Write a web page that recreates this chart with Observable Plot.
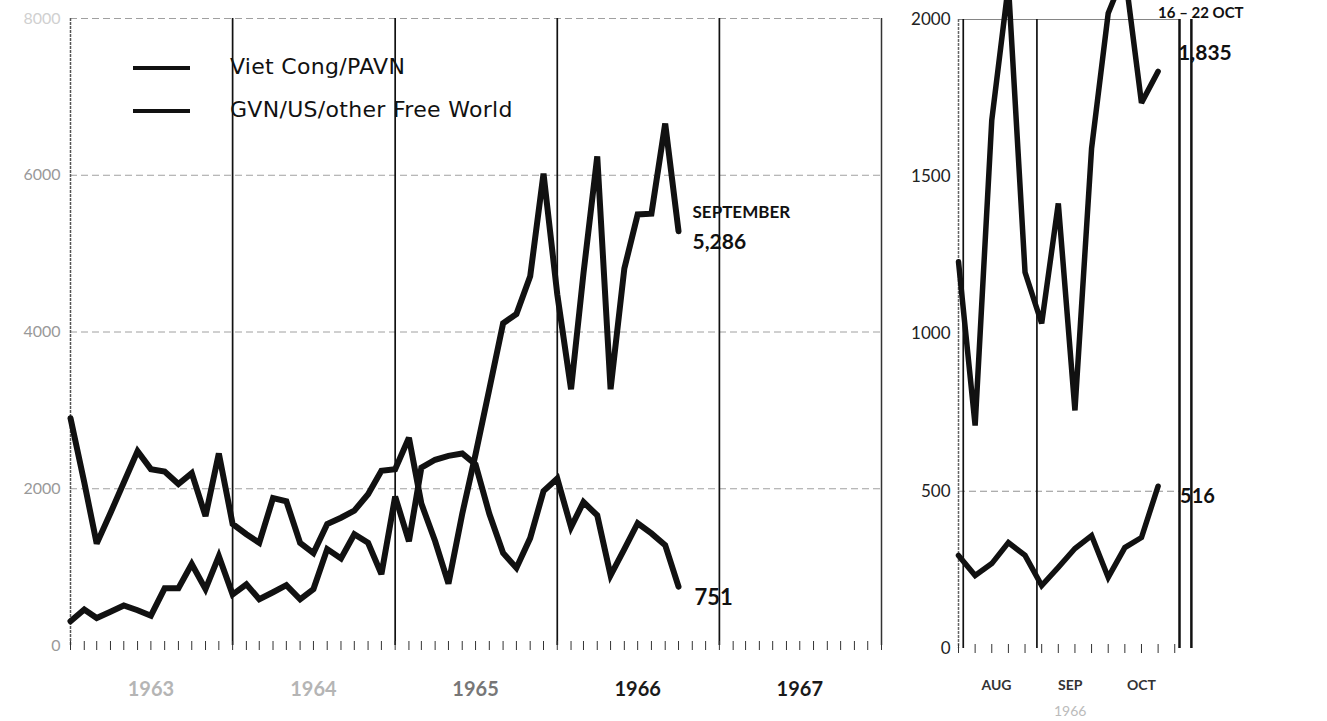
<!DOCTYPE html>
<html>
<head>
<meta charset="utf-8">
<script src="https://cdn.jsdelivr.net/npm/d3@7"></script>
<script src="https://cdn.jsdelivr.net/npm/@observablehq/plot@0.6"></script>
<style>
html, body { margin: 0; padding: 0; background: #fff; }
#wrap { position: relative; width: 1327px; height: 721px; overflow: hidden; font-family: Lato, "Noto Sans", sans-serif; background: #fff; }
#left, #right { position: absolute; top: 0; }
#left { left: 0; }
#right { left: 880px; }
.leg { position: absolute; left: 133px; height: 0; }
.leg .sw { position: absolute; left: 0; top: -2px; width: 57px; height: 4px; background: #111; }
.leg .lab { position: absolute; left: 97px; top: -15px; white-space: nowrap; font-family: "DejaVu Sans", sans-serif; font-size: 22px; letter-spacing: 0.3px; color: #111; line-height: 28px; }
</style>
</head>
<body>
<div id="wrap">
  <div id="left"></div>
  <div id="right"></div>
  <div id="legend"></div>
</div>
<script>
// ---------- data ----------
const seriesNames = ["Viet Cong/PAVN", "GVN/US/other Free World"];

const months = [
  "1963-01","1963-02","1963-03","1963-04","1963-05","1963-06","1963-07","1963-08","1963-09","1963-10","1963-11","1963-12",
  "1964-01","1964-02","1964-03","1964-04","1964-05","1964-06","1964-07","1964-08","1964-09","1964-10","1964-11","1964-12",
  "1965-01","1965-02","1965-03","1965-04","1965-05","1965-06","1965-07","1965-08","1965-09","1965-10","1965-11","1965-12",
  "1966-01","1966-02","1966-03","1966-04","1966-05","1966-06","1966-07","1966-08","1966-09","1966-10"
];
const vcMonthly = [
  2900, 2080, 1300, 1690, 2080, 2480, 2250, 2220, 2060, 2200, 1650, 2450,
  1550, 1420, 1310, 1880, 1840, 1310, 1180, 1550, 1630, 1720, 1930, 2230,
  2250, 2650, 1810, 1330, 790, 1680, 2440, 3270, 4110, 4230, 4710, 6020,
  4480, 3270, 4750, 6240, 3270, 4810, 5500, 5510, 6660, 5286
];
const gvnMonthly = [
  310, 460, 350, 430, 510, 450, 380, 730, 730, 1040, 720, 1140,
  650, 780, 590, 680, 770, 590, 720, 1230, 1110, 1420, 1310, 910,
  1900, 1330, 2270, 2370, 2420, 2450, 2310, 1680, 1180, 990, 1370, 1970,
  2130, 1510, 1830, 1660, 895, 1230, 1560, 1430, 1280, 751
];
const yearLabels = ["1963", "1964", "1965", "1966", "1967"];
const leftYTicks = [0, 2000, 4000, 6000, 8000];

const weekEnds = ["1966-07-30","1966-08-06","1966-08-13","1966-08-20","1966-08-27","1966-09-03","1966-09-10",
                  "1966-09-17","1966-09-24","1966-10-01","1966-10-08","1966-10-15","1966-10-22"];
const vcWeekly  = [1230, 709, 1680, 2110, 1196, 1034, 1415, 757, 1590, 2020, 2150, 1735, 1835];
const gvnWeekly = [296, 232, 270, 337, 296, 200, 258, 318, 359, 226, 321, 353, 516];
const monthLabels = ["AUG", "SEP", "OCT"];
const rightYTicks = [0, 500, 1000, 1500, 2000];
const lastWeekLabel = "16 – 22 OCT";
const lastMonthLabel = "SEPTEMBER";

// ---------- tables ----------
const parseM = d3.utcParse("%Y-%m");
const parseD = d3.utcParse("%Y-%m-%d");
const monthly = months.map((m, i) => ({date: parseM(m), vc: vcMonthly[i], gvn: gvnMonthly[i]}));
const weekly = weekEnds.map((w, i) => ({date: parseD(w), vc: vcWeekly[i], gvn: gvnWeekly[i]}));
const lastM = monthly[monthly.length - 1];
const lastW = weekly[weekly.length - 1];

const yearStarts = yearLabels.map(y => new Date(Date.UTC(+y, 0, 1)));
const yearMids = yearLabels.map(y => new Date(Date.UTC(+y, 6, 1)));
const leftDomain = [yearStarts[0], new Date(Date.UTC(+yearLabels[4] + 1, 0, 1))];
const monthTicks = d3.utcMonth.range(leftDomain[0], new Date(+leftDomain[1] + 1));

const rightStart = weekly[0].date;
const rightEnd = d3.utcDay.offset(d3.utcMonth.ceil(lastW.date), -1);
const monthStartsR = [d3.utcMonth.ceil(rightStart), d3.utcMonth.offset(d3.utcMonth.ceil(rightStart), 1)];
const monthMidsR = monthLabels.map((m, i) => d3.utcDay.offset(d3.utcMonth.offset(d3.utcMonth.floor(rightStart), i + 1), 14));
const weekTicks = d3.utcSaturday.range(rightStart, d3.utcDay.offset(rightEnd, 1));

const FONT = "Lato, 'Noto Sans', sans-serif";
const lineOpts = {stroke: "#111", strokeWidth: 6, strokeLinejoin: "miter", strokeMiterlimit: 3};
const plain = d => String(d);

// ---------- left panel ----------
const left = Plot.plot({
  width: 900, height: 721,
  marginLeft: 70, marginRight: 19, marginTop: 18, marginBottom: 76,
  style: {background: "transparent", fontFamily: FONT, overflow: "hidden"},
  x: {type: "utc", domain: leftDomain, axis: null},
  y: {domain: [0, 8000], axis: null},
  marks: [
    Plot.gridY(leftYTicks.slice(1), {stroke: "#777", strokeOpacity: 0.7, strokeDasharray: "7,4"}),
    Plot.ruleX([leftDomain[0]], {stroke: "#555", strokeWidth: 1.5, strokeDasharray: "3,1"}),
    Plot.ruleX(yearStarts.slice(1), {stroke: "#111", strokeWidth: 1.7}),
    Plot.ruleX([leftDomain[1]], {stroke: "#333", strokeWidth: 1.5}),
    Plot.axisX(monthTicks, {tickSize: 9, tickFormat: () => "", dy: -4, stroke: "#333"}),
    Plot.axisX(yearMids.slice(0, 2), {tickSize: 0, tickPadding: 36, tickFormat: "%Y", fontSize: 20, fontWeight: "bold", fill: "#b5b5b5", letterSpacing: "2px"}),
    Plot.axisX(yearMids.slice(2, 3), {tickSize: 0, tickPadding: 36, tickFormat: "%Y", fontSize: 20, fontWeight: "bold", fill: "#777", letterSpacing: "2px"}),
    Plot.axisX(yearMids.slice(3), {tickSize: 0, tickPadding: 36, tickFormat: "%Y", fontSize: 20, fontWeight: "bold", fill: "#1a1a1a", letterSpacing: "2px"}),
    Plot.axisY(leftYTicks.slice(0, 4), {tickSize: 0, tickPadding: 10, tickFormat: plain, fontSize: 16, fill: "#999"}),
    Plot.axisY(leftYTicks.slice(4), {tickSize: 0, tickPadding: 10, tickFormat: plain, fontSize: 16, fill: "#d0d0d0"}),
    Plot.line(monthly, {x: "date", y: "gvn", ...lineOpts}),
    Plot.line(monthly, {x: "date", y: "vc", ...lineOpts}),
    Plot.text([lastM], {x: "date", y: "vc", text: () => lastMonthLabel, dx: 14, dy: -19, textAnchor: "start", fontSize: 17, fontWeight: "bold", fill: "#111"}),
    Plot.text([lastM], {x: "date", y: "vc", text: d => d3.format(",")(d.vc), dx: 14, dy: 11, textAnchor: "start", fontSize: 21, fontWeight: "bold", fill: "#111"}),
    Plot.text([lastM], {x: "date", y: "gvn", text: d => String(d.gvn), dx: 16, dy: 11, textAnchor: "start", fontSize: 22, fontWeight: "bold", fill: "#111"})
  ]
});
document.getElementById("left").appendChild(left);

// ---------- right panel ----------
const right = Plot.plot({
  width: 447, height: 721,
  marginLeft: 78, marginRight: 148, marginTop: 19, marginBottom: 73,
  style: {background: "transparent", fontFamily: FONT, overflow: "hidden"},
  x: {type: "utc", domain: [rightStart, rightEnd], axis: null},
  y: {domain: [0, 2000], axis: null},
  marks: [
    Plot.gridY([rightYTicks[1]], {stroke: "#777", strokeOpacity: 0.8, strokeDasharray: "7,4"}),
    Plot.gridY([rightYTicks[4]], {stroke: "#666", strokeOpacity: 0.8}),
    Plot.ruleX([rightStart], {stroke: "#666", strokeWidth: 1.5, strokeDasharray: "3,1"}),
    Plot.ruleX(monthStartsR, {stroke: "#111", strokeWidth: 1.7}),
    Plot.ruleX([rightEnd, d3.utcDay.offset(rightEnd, 5)], {stroke: "#111", strokeWidth: 2.5}),
    Plot.axisX(weekTicks, {tickSize: 9, tickFormat: () => "", dy: -4, stroke: "#333"}),
    Plot.axisX(monthMidsR, {tickSize: 0, tickPadding: 32, tickFormat: (d, i) => monthLabels[i], fontSize: 14, fontWeight: "bold", fill: "#333", letterSpacing: "2px"}),
    Plot.axisX([monthMidsR[1]], {tickSize: 0, tickPadding: 58, tickFormat: "%Y", fontSize: 14, fill: "#bbb", letterSpacing: "1px"}),
    Plot.axisY(rightYTicks, {tickSize: 0, tickPadding: 8, tickFormat: plain, fontSize: 17, fill: "#222"}),
    Plot.line(weekly, {x: "date", y: "gvn", ...lineOpts, strokeWidth: 5.5}),
    Plot.line(weekly, {x: "date", y: "vc", ...lineOpts, strokeWidth: 5.5}),
    Plot.text([lastW], {x: "date", y: "vc", text: d => d3.format(",")(d.vc), dx: 20, dy: -18, textAnchor: "start", fontSize: 21, fontWeight: "bold", fill: "#111"}),
    Plot.text([lastW], {x: "date", y: "gvn", text: d => String(d.gvn), dx: 22, dy: 10, textAnchor: "start", fontSize: 20, fontWeight: "bold", fill: "#111"}),
    Plot.text([lastW], {x: "date", y: "vc", text: () => lastWeekLabel, dy: -58, textAnchor: "start", fontSize: 15, fontWeight: "bold", fill: "#111"})
  ]
});
document.getElementById("right").appendChild(right);

// ---------- legend ----------
const legend = document.getElementById("legend");
seriesNames.forEach((name, i) => {
  const row = document.createElement("div");
  row.className = "leg";
  row.style.top = (68 + i * 43) + "px";
  row.innerHTML = `<div class="sw"></div><div class="lab"></div>`;
  row.querySelector(".lab").textContent = name;
  legend.appendChild(row);
});
</script>
</body>
</html>
